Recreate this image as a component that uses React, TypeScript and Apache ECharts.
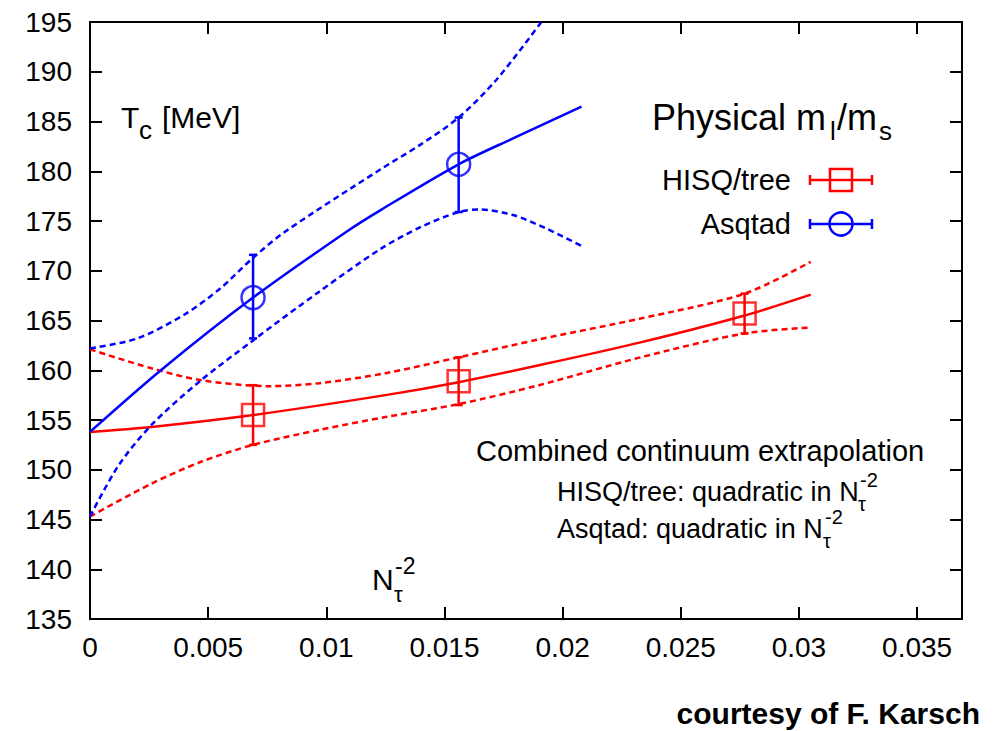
import React, { useEffect, useRef } from "react";
import * as echarts from "echarts";

// Axis settings
const X_MIN = 0;
const X_MAX = 0.0369;
const X_INTERVAL = 0.005;
const Y_MIN = 135;
const Y_MAX = 195;
const Y_INTERVAL = 5;

// HISQ/tree data points (N_tau^-2, Tc, error low, error high)
const hisqX = [0.0069, 0.0156, 0.0277];
const hisqT = [155.5, 158.9, 165.7];
const hisqLo = [152.5, 156.5, 163.7];
const hisqHi = [158.5, 161.3, 167.7];

// Asqtad data points
const asqX = [0.0069, 0.0156];
const asqT = [167.3, 180.7];
const asqLo = [163.2, 175.9];
const asqHi = [171.6, 185.4];

// HISQ/tree continuum fit and error band
const hisqFitX = [0, 0.0026, 0.0069, 0.0125, 0.0156, 0.019, 0.0233, 0.0277, 0.0305];
const hisqFitT = [153.8, 154.3, 155.5, 157.5, 158.8, 160.5, 162.8, 165.5, 167.6];
const hisqUpX = [0, 0.0026, 0.0047, 0.0076, 0.0097, 0.0125, 0.0156, 0.019, 0.0233, 0.0277, 0.0305];
const hisqUpT = [162.1, 160.2, 159.0, 158.4, 158.7, 159.7, 161.3, 163.1, 165.2, 167.7, 170.9];
const hisqLoX = [0, 0.0026, 0.0047, 0.0069, 0.0097, 0.0125, 0.0156, 0.019, 0.0233, 0.0277, 0.0305];
const hisqLoT = [145.3, 148.6, 150.8, 152.5, 154.0, 155.3, 156.6, 158.5, 161.3, 163.7, 164.3];

// Asqtad continuum fit and error band
const asqFitX = [0, 0.003, 0.0069, 0.0109, 0.0123, 0.0156, 0.0179, 0.0208];
const asqFitT = [153.8, 160.0, 167.3, 174.0, 176.1, 180.7, 183.3, 186.5];
const asqUpX = [0, 0.002, 0.004, 0.0055, 0.0069, 0.0083, 0.0123, 0.014, 0.0156, 0.0172, 0.0191];
const asqUpT = [162.2, 163.2, 165.6, 168.2, 171.3, 174.0, 180.2, 182.7, 185.4, 189.2, 195.0];
const asqLoX = [0, 0.0012, 0.0026, 0.0046, 0.0069, 0.0097, 0.0123, 0.014, 0.0156, 0.0165, 0.0179, 0.0193, 0.0208];
const asqLoT = [145.3, 150.4, 154.5, 158.8, 163.0, 167.9, 172.2, 174.4, 175.9, 176.15, 175.6, 174.25, 172.5];

const RED = "#ff0000";
const BLUE = "#0000ff";
const FONT = "'Liberation Sans', Arial, Helvetica, sans-serif";

function pairs(xs: number[], ys: number[]) {
  return xs.map((x, i) => [x, ys[i]]);
}

function curve(name: string, xs: number[], ys: number[], color: string, dashed: boolean) {
  return {
    type: "line",
    name,
    data: pairs(xs, ys),
    showSymbol: false,
    symbol: "none",
    smooth: 0.3,
    silent: true,
    clip: true,
    z: 2,
    lineStyle: { color, width: 2.5, type: dashed ? [6, 4] : "solid" },
  };
}

function errorBars(name: string, xs: number[], lo: number[], hi: number[], color: string) {
  return {
    type: "custom",
    name,
    silent: true,
    z: 3,
    data: xs.map((x, i) => [x, lo[i], hi[i]]),
    encode: { x: 0, y: [1, 2] },
    renderItem: (_params: any, api: any) => {
      const x = api.value(0);
      const pLo = api.coord([x, api.value(1)]);
      const pHi = api.coord([x, api.value(2)]);
      const cap = 4;
      const style = { stroke: color, lineWidth: 2.5 };
      return {
        type: "group",
        children: [
          { type: "line", shape: { x1: pLo[0], y1: pLo[1], x2: pHi[0], y2: pHi[1] }, style },
          { type: "line", shape: { x1: pLo[0] - cap, y1: pLo[1], x2: pLo[0] + cap, y2: pLo[1] }, style },
          { type: "line", shape: { x1: pHi[0] - cap, y1: pHi[1], x2: pHi[0] + cap, y2: pHi[1] }, style },
        ],
      };
    },
  };
}

function markers(name: string, xs: number[], ys: number[], color: string, symbol: string, size: number) {
  return {
    type: "scatter",
    name,
    data: pairs(xs, ys),
    symbol,
    symbolSize: size,
    silent: true,
    z: 4,
    itemStyle: { color: "rgba(0,0,0,0)", borderColor: color, borderWidth: 2.5 },
  };
}

function txt(text: string, x: number, y: number, size: number, align = "left", weight = "normal") {
  return {
    type: "text",
    x,
    y,
    z: 10,
    style: {
      text,
      fill: "#000",
      fontSize: size,
      fontFamily: FONT,
      fontWeight: weight,
      align,
      verticalAlign: "middle",
    },
  };
}

function legendIcon(y: number, color: string, kind: "rect" | "circle") {
  const st = { stroke: color, lineWidth: 2.5, fill: "none" };
  const x1 = 810;
  const x2 = 872;
  const cx = 841;
  const items: any[] = [
    { type: "line", shape: { x1, y1: y, x2, y2: y }, style: st, z: 10 },
    { type: "line", shape: { x1, y1: y - 5, x2: x1, y2: y + 5 }, style: st, z: 10 },
    { type: "line", shape: { x1: x2, y1: y - 5, x2, y2: y + 5 }, style: st, z: 10 },
  ];
  if (kind === "rect") {
    items.push({ type: "rect", shape: { x: cx - 11, y: y - 11, width: 22, height: 22 }, style: { ...st, fill: "#fff" }, z: 11 });
    items.push({ type: "line", shape: { x1: cx - 11, y1: y, x2: cx + 11, y2: y }, style: st, z: 12 });
  } else {
    items.push({ type: "circle", shape: { cx, cy: y, r: 11.5 }, style: { ...st, fill: "#fff" }, z: 11 });
    items.push({ type: "line", shape: { x1: cx - 11, y1: y, x2: cx + 11, y2: y }, style: st, z: 12 });
  }
  return items;
}

export default function App() {
  const ref = useRef<HTMLDivElement>(null);

  useEffect(() => {
    if (!ref.current) return;
    const chart = echarts.init(ref.current, null, { renderer: "svg" });

    const axisLine = { show: true, onZero: false, lineStyle: { color: "#000", width: 2 } };
    const axisTick = { show: true, inside: true, length: 12, lineStyle: { color: "#000", width: 2 } };

    const option: any = {
      animation: false,
      backgroundColor: "#ffffff",
      grid: { left: 90, right: 35, top: 22, bottom: 112, containLabel: false, outerBoundsMode: "none" },
      xAxis: [
        {
          type: "value",
          min: X_MIN,
          max: X_MAX,
          interval: X_INTERVAL,
          position: "bottom",
          axisLine,
          axisTick,
          splitLine: { show: false },
          axisLabel: {
            show: true,
            margin: 14,
            fontSize: 28,
            color: "#000",
            fontFamily: FONT,
            showMinLabel: true,
            showMaxLabel: false,
            hideOverlap: false,
          },
        },
        {
          type: "value",
          min: X_MIN,
          max: X_MAX,
          interval: X_INTERVAL,
          position: "top",
          axisLine,
          axisTick,
          splitLine: { show: false },
          axisLabel: { show: false },
        },
      ],
      yAxis: [
        {
          type: "value",
          min: Y_MIN,
          max: Y_MAX,
          interval: Y_INTERVAL,
          position: "left",
          axisLine,
          axisTick,
          splitLine: { show: false },
          axisLabel: {
            show: true,
            margin: 18,
            fontSize: 28,
            color: "#000",
            fontFamily: FONT,
            showMinLabel: true,
            showMaxLabel: true,
            hideOverlap: false,
          },
        },
        {
          type: "value",
          min: Y_MIN,
          max: Y_MAX,
          interval: Y_INTERVAL,
          position: "right",
          axisLine,
          axisTick,
          splitLine: { show: false },
          axisLabel: { show: false },
        },
      ],
      series: [
        curve("HISQ/tree fit", hisqFitX, hisqFitT, RED, false),
        curve("HISQ/tree upper", hisqUpX, hisqUpT, RED, true),
        curve("HISQ/tree lower", hisqLoX, hisqLoT, RED, true),
        curve("Asqtad fit", asqFitX, asqFitT, BLUE, false),
        curve("Asqtad upper", asqUpX, asqUpT, BLUE, true),
        curve("Asqtad lower", asqLoX, asqLoT, BLUE, true),
        errorBars("HISQ/tree errors", hisqX, hisqLo, hisqHi, RED),
        errorBars("Asqtad errors", asqX, asqLo, asqHi, BLUE),
        markers("HISQ/tree", hisqX, hisqT, RED, "rect", 22),
        markers("Asqtad", asqX, asqT, BLUE, "circle", 23),
      ],
      graphic: [
        // y-axis label: T_c [MeV]
        txt("T", 121, 117, 30),
        txt("c", 139, 130, 26),
        txt("[MeV]", 162, 117, 30),
        // title: Physical m_l/m_s
        txt("Physical m", 652, 117, 36),
        txt("l", 830, 131, 26),
        txt("/m", 837, 117, 36),
        txt("s", 879, 131, 26),
        // legend
        txt("HISQ/tree", 791, 180, 29, "right"),
        txt("Asqtad", 791, 224, 29, "right"),
        ...legendIcon(180, RED, "rect"),
        ...legendIcon(224, BLUE, "circle"),
        // annotation
        txt("Combined continuum extrapolation", 476, 451, 29),
        txt("HISQ/tree: quadratic in N", 557, 492, 27),
        txt("τ", 858, 504, 20),
        txt("-2", 860, 480, 20),
        txt("Asqtad: quadratic in N", 557, 529, 27),
        txt("τ", 823, 541, 20),
        txt("-2", 825, 517, 20),
        // x-axis label: N_tau^-2
        txt("N", 372, 579, 30),
        txt("τ", 394, 594, 22),
        txt("-2", 395, 566, 23),
        // credit
        txt("courtesy of F. Karsch", 980, 713, 30, "right", "bold"),
      ],
    };

    chart.setOption(option);
    return () => {
      chart.dispose();
    };
  }, []);

  return (
    <div
      ref={ref}
      style={{ position: "absolute", left: 0, top: 0, width: 997, height: 731, background: "#fff" }}
    />
  );
}
